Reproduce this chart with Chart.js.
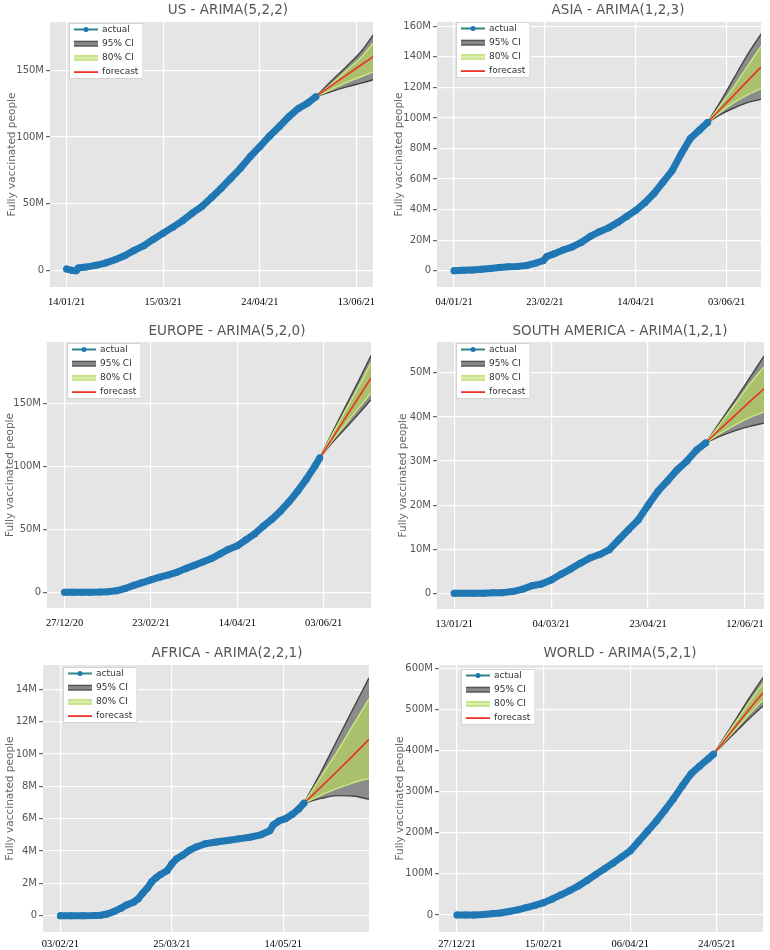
<!DOCTYPE html>
<html>
<head>
<meta charset="utf-8">
<title>Fully vaccinated people - ARIMA forecasts</title>
<script src="https://cdn.jsdelivr.net/npm/chart.js@4.4.0/dist/chart.umd.min.js"></script>
<style>
  body { margin: 0; background: #fff; width: 770px; height: 950px; position: relative; overflow: hidden; }
  canvas { position: absolute; }
</style>
</head>
<body>
<canvas id="c-us" width="385" height="310" style="left:0;top:0"></canvas>
<canvas id="c-asia" width="385" height="310" style="left:385px;top:0"></canvas>
<canvas id="c-europe" width="385" height="320" style="left:0;top:310px"></canvas>
<canvas id="c-sa" width="385" height="320" style="left:385px;top:310px"></canvas>
<canvas id="c-africa" width="385" height="320" style="left:0;top:630px"></canvas>
<canvas id="c-world" width="385" height="320" style="left:385px;top:630px"></canvas>
<script>
// values in millions of people, x = days since first observation
const tickDays = [0, 50, 100, 150]
const legendLabels = ['actual', '95% CI', '80% CI', 'forecast']

// US
const usDates = ['14/01/21', '15/03/21', '24/04/21', '13/06/21']
const usYTicks = [0, 50, 100, 150]
const usDays = [0, 3, 5, 6, 10, 15, 20, 25, 30, 35, 40, 45, 50, 55, 60, 65, 70, 75, 80, 85, 90, 95, 100, 105, 110, 115, 120, 125, 129]
const usActual = [1.2, 0.2, 0, 2, 2.7, 4, 5.7, 8.2, 11.2, 15.2, 18.7, 23.6, 28.1, 32.6, 37.3, 43, 48, 54.7, 61.7, 69.2, 76.6, 85.3, 92.8, 100.7, 107.7, 115.2, 121.4, 125.6, 130.1]
const usFcDays = [129, 137, 145, 153, 159]
const usForecast = [130.1, 138.5, 146.5, 154.5, 160.5]
const usUp95 = [130.1, 142, 153, 165, 177]
const usLo95 = [130.1, 134, 137.5, 140.5, 143]
const usUp80 = [130.1, 139.5, 150, 160.5, 171]
const usLo80 = [130.1, 135.5, 141, 145.5, 149]

// ASIA
const asiaDates = ['04/01/21', '23/02/21', '14/04/21', '03/06/21']
const asiaYTicks = [0, 20, 40, 60, 80, 100, 120, 140, 160]
const asiaDays = [0, 5, 10, 15, 20, 25, 30, 35, 40, 45, 49, 51, 55, 60, 65, 70, 75, 80, 85, 90, 95, 100, 105, 110, 115, 120, 125, 130, 135, 139.5]
const asiaActual = [0, 0.2, 0.5, 0.9, 1.4, 2.0, 2.5, 2.8, 3.4, 5.0, 6.5, 9.3, 11, 13.5, 15.5, 18.5, 22.5, 25.5, 28, 31.5, 35.5, 39.5, 44.5, 50.5, 58, 65.5, 76.5, 86.5, 92, 97]
const asiaFcDays = [139.5, 147, 154, 161, 169]
const asiaForecast = [97, 106.3, 114.9, 123.6, 133.4]
const asiaUp95 = [97, 111.5, 126, 140.5, 155]
const asiaLo95 = [97, 102.5, 106.5, 109.8, 112.2]
const asiaUp80 = [97, 109, 120.5, 133, 147]
const asiaLo80 = [97, 104, 110, 114.8, 119.3]

// EUROPE
const euDates = ['27/12/20', '23/02/21', '14/04/21', '03/06/21']
const euYTicks = [0, 50, 100, 150]
const euDays = [0, 5, 10, 15, 20, 25, 30, 35, 40, 45, 50, 55, 60, 65, 70, 75, 80, 85, 90, 95, 100, 105, 110, 115, 120, 125, 130, 135, 140, 145, 147.7]
const euActual = [0, 0, 0, 0.1, 0.2, 0.5, 1.2, 3, 5.5, 7.7, 9.9, 12, 13.8, 15.9, 18.8, 21.4, 24, 26.8, 30.5, 34.3, 37, 41.7, 46.4, 52.5, 58, 64.5, 72, 80.5, 90, 100.5, 106.8]
const euFcDays = [147.7, 155, 162, 170, 177.4]
const euForecast = [106.8, 122.5, 137.5, 154.5, 170.4]
const euUp95 = [106.8, 127, 146, 167.5, 188.2]
const euLo95 = [106.8, 119, 129.5, 141.5, 153.2]
const euUp80 = [106.8, 125.5, 143, 163, 182.4]
const euLo80 = [106.8, 120.5, 132.5, 146, 158.5]

// SOUTH AMERICA
const saDates = ['13/01/21', '04/03/21', '23/04/21', '12/06/21']
const saYTicks = [0, 10, 20, 30, 40, 50]
const saDays = [0, 5, 10, 15, 20, 25, 30, 35, 40, 45, 50, 55, 60, 65, 70, 75, 80, 85, 90, 95, 100, 105, 110, 115, 120, 125, 129.7]
const saActual = [0, 0, 0, 0, 0.1, 0.15, 0.4, 0.9, 1.7, 2.1, 3.0, 4.3, 5.5, 6.8, 8.0, 8.8, 9.9, 12.2, 14.5, 16.7, 20, 23.1, 25.5, 28, 30, 32.5, 34.1]
const saFcDays = [129.7, 137, 145, 152, 159.8]
const saForecast = [34.1, 37.2, 40.4, 43.3, 46.4]
const saUp95 = [34.1, 38.8, 43.9, 48.6, 53.8]
const saLo95 = [34.1, 35.6, 36.9, 37.8, 38.6]
const saUp80 = [34.1, 38.3, 43, 47.2, 51.4]
const saLo80 = [34.1, 36.2, 38.2, 39.8, 41.1]

// AFRICA
const afDates = ['03/02/21', '25/03/21', '14/05/21']
const afYTicks = [0, 2, 4, 6, 8, 10, 12, 14]
const afDays = [0, 5, 10, 15, 18, 21, 24, 27, 30, 33, 35, 37, 39, 41, 43, 45, 48, 50, 52, 55, 58, 61, 65, 70, 75, 80, 85, 90, 94, 95.5, 98, 101, 104, 107, 109.3]
const afActual = [0, 0, 0, 0.01, 0.03, 0.1, 0.25, 0.45, 0.68, 0.85, 1.05, 1.4, 1.7, 2.1, 2.35, 2.55, 2.8, 3.2, 3.5, 3.75, 4.05, 4.25, 4.45, 4.55, 4.65, 4.75, 4.85, 5.0, 5.25, 5.6, 5.85, 6.0, 6.25, 6.6, 6.95]
const afFcDays = [109.3, 117, 124, 131, 138.5]
const afForecast = [6.95, 7.96, 8.9, 9.85, 10.9]
const afUp95 = [6.95, 8.9, 10.8, 12.7, 14.7]
const afLo95 = [6.95, 7.25, 7.42, 7.4, 7.2]
const afUp80 = [6.95, 8.6, 10.1, 11.7, 13.4]
const afLo80 = [6.95, 7.45, 7.85, 8.2, 8.5]

// WORLD
const wDates = ['27/12/21', '15/02/21', '06/04/21', '24/05/21']
const wYTicks = [0, 100, 200, 300, 400, 500, 600]
const wDays = [0, 5, 10, 15, 20, 25, 30, 35, 40, 45, 50, 55, 60, 65, 70, 75, 80, 85, 90, 95, 100, 105, 110, 115, 120, 125, 130, 135, 140, 145, 148]
const wActual = [0, 0, 0.2, 1.2, 2.8, 5, 8.5, 12.5, 18, 23.5, 30, 39, 49, 59.5, 70.5, 84, 98, 112, 126, 141, 156, 180, 204, 228, 255, 283, 314, 343, 362, 380, 391]
const wFcDays = [148, 155, 162, 169, 176.6]
const wForecast = [391, 428, 465, 502, 540.7]
const wUp95 = [391, 437, 483, 530, 577.3]
const wLo95 = [391, 421, 450, 479, 508.2]
const wUp80 = [391, 434, 476, 519, 563.4]
const wLo80 = [391, 424, 457, 490, 523]

const FONT = '"DejaVu Sans", Verdana, sans-serif'
const SERIF = '"Liberation Serif", "Times New Roman", serif'

const panels = [
    { id: 'c-us', h: 310, title: 'US - ARIMA(5,2,2)', titleX: 228, titleY: 14, area: { l: 50, r: 373, t: 22, b: 287 }, yTitleX: 12, xPad: 9,
      xRange: [-8.6, 158.6], yRange: [-12.2, 186.1], yTicks: usYTicks, dates: usDates, legend: { dx: 19, dy: 1 },
      days: usDays, actual: usActual, fcDays: usFcDays, forecast: usForecast, up95: usUp95, lo95: usLo95, up80: usUp80, lo80: usLo80 },
    { id: 'c-asia', h: 310, title: 'ASIA - ARIMA(1,2,3)', titleX: 233, titleY: 14, area: { l: 52, r: 376, t: 22, b: 287 }, yTitleX: 14, xPad: 9,
      xRange: [-9.4, 168.9], yRange: [-10.7, 162.8], yTicks: asiaYTicks, dates: asiaDates, legend: { dx: 19, dy: 0 },
      days: asiaDays, actual: asiaActual, fcDays: asiaFcDays, forecast: asiaForecast, up95: asiaUp95, lo95: asiaLo95, up80: asiaUp80, lo80: asiaLo80 },
    { id: 'c-europe', h: 320, title: 'EUROPE - ARIMA(5,2,0)', titleX: 227, titleY: 25, area: { l: 47, r: 371, t: 32, b: 298 }, yTitleX: 10, xPad: 9,
      xRange: [-10.2, 177.4], yRange: [-12.5, 199], yTicks: euYTicks, dates: euDates, legend: { dx: 20, dy: 1 },
      days: euDays, actual: euActual, fcDays: euFcDays, forecast: euForecast, up95: euUp95, lo95: euLo95, up80: euUp80, lo80: euLo80 },
    { id: 'c-sa', h: 320, title: 'SOUTH AMERICA - ARIMA(1,2,1)', titleX: 235, titleY: 25, area: { l: 52, r: 379, t: 32, b: 299 }, yTitleX: 18, xPad: 9,
      xRange: [-8.9, 159.8], yRange: [-3.56, 57.0], yTicks: saYTicks, dates: saDates, legend: { dx: 19, dy: 1 },
      days: saDays, actual: saActual, fcDays: saFcDays, forecast: saForecast, up95: saUp95, lo95: saLo95, up80: saUp80, lo80: saLo80 },
    { id: 'c-africa', h: 320, title: 'AFRICA - ARIMA(2,2,1)', titleX: 227, titleY: 27, area: { l: 43, r: 369, t: 35, b: 302 }, yTitleX: 10, xPad: 6,
      xRange: [-7.8, 138.5], yRange: [-1.01, 15.5], yTicks: afYTicks, dates: afDates, legend: { dx: 20, dy: 2 },
      days: afDays, actual: afActual, fcDays: afFcDays, forecast: afForecast, up95: afUp95, lo95: afLo95, up80: afUp80, lo80: afLo80 },
    { id: 'c-world', h: 320, title: 'WORLD - ARIMA(5,2,1)', titleX: 235, titleY: 27, area: { l: 54, r: 378, t: 35, b: 302 }, yTitleX: 15, xPad: 6,
      xRange: [-10.4, 176.6], yRange: [-41.4, 608], yTicks: wYTicks, dates: wDates, legend: { dx: 22, dy: 4 },
      days: wDays, actual: wActual, fcDays: wFcDays, forecast: wForecast, up95: wUp95, lo95: wLo95, up80: wUp80, lo80: wLo80 }
]

const plotBackground = {
    id: 'plotBackground',
    beforeDraw(chart) {
        const { ctx, chartArea: a } = chart
        ctx.save()
        ctx.fillStyle = '#e5e5e5'
        ctx.fillRect(a.left, a.top, a.width, a.height)
        ctx.restore()
    }
}

const panelTitle = {
    id: 'panelTitle',
    afterDraw(chart, args, opts) {
        const ctx = chart.ctx
        ctx.save()
        ctx.font = '13.5px ' + FONT
        ctx.fillStyle = '#555'
        ctx.textAlign = 'center'
        ctx.textBaseline = 'alphabetic'
        ctx.fillText(opts.text, opts.x, opts.y)
        ctx.restore()
    }
}

// legend box drawn inside the plot, top left
const insideLegend = {
    id: 'insideLegend',
    afterDraw(chart, args, opts) {
        const ctx = chart.ctx
        const a = chart.chartArea
        const x0 = a.left + opts.dx
        const y0 = a.top + opts.dy
        ctx.save()
        ctx.font = '9px ' + FONT
        const tw = Math.max(...legendLabels.map(t => ctx.measureText(t).width))
        const w = 33 + tw + 5
        const h = 56
        ctx.fillStyle = '#fff'
        ctx.fillRect(x0, y0, w, h)
        ctx.strokeStyle = '#d4d4d4'
        ctx.lineWidth = 1
        ctx.strokeRect(x0 + 0.5, y0 + 0.5, w - 1, h - 1)
        legendLabels.forEach((label, i) => {
            const cy = y0 + 6.5 + i * 14.2
            const lx = x0 + 5
            if (i === 0) {
                ctx.strokeStyle = '#2e8585'
                ctx.lineWidth = 2
                ctx.beginPath(); ctx.moveTo(lx, cy); ctx.lineTo(lx + 24, cy); ctx.stroke()
                ctx.fillStyle = '#1f77b4'
                ctx.beginPath(); ctx.arc(lx + 12, cy, 2.5, 0, Math.PI * 2); ctx.fill()
            } else if (i === 1) {
                ctx.fillStyle = '#555'
                ctx.fillRect(lx, cy - 3, 24, 6)
                ctx.fillStyle = '#8a8a8a'
                ctx.fillRect(lx, cy - 1.5, 24, 3)
            } else if (i === 2) {
                ctx.fillStyle = '#c8e48a'
                ctx.fillRect(lx, cy - 3, 24, 6)
                ctx.fillStyle = '#dcefb0'
                ctx.fillRect(lx, cy - 1, 24, 2)
            } else {
                ctx.strokeStyle = '#e8322a'
                ctx.lineWidth = 1.8
                ctx.beginPath(); ctx.moveTo(lx, cy); ctx.lineTo(lx + 24, cy); ctx.stroke()
            }
            ctx.fillStyle = '#333'
            ctx.textAlign = 'left'
            ctx.textBaseline = 'middle'
            ctx.fillText(label, x0 + 33, cy)
        })
        ctx.restore()
    }
}

function xy(days, vals) {
    return days.map((d, i) => ({ x: d, y: vals[i] }))
}

function band(data, color, fill, bg) {
    return {
        data: data, borderColor: color, borderWidth: 1.4, pointRadius: 0,
        cubicInterpolationMode: 'monotone', fill: fill, backgroundColor: bg
    }
}

panels.forEach(p => {
    const datasets = [
        {
            label: 'actual', data: xy(p.days, p.actual),
            borderColor: '#1f77b4', backgroundColor: '#1f77b4', borderWidth: 7,
            borderCapStyle: 'round', borderJoinStyle: 'round',
            pointRadius: 3.5, pointBorderWidth: 0, fill: false
        },
        {
            label: 'forecast', data: xy(p.fcDays, p.forecast),
            borderColor: '#e8322a', borderWidth: 1.6, pointRadius: 0, fill: false
        },
        band(xy(p.fcDays, p.up80), '#c9e882', '+1', 'rgb(170,192,108)'),
        band(xy(p.fcDays, p.lo80), '#c9e882', false, 'transparent'),
        band(xy(p.fcDays, p.up95), '#444', '+1', 'rgb(140,140,140)'),
        band(xy(p.fcDays, p.lo95), '#444', false, 'transparent')
    ]

    new Chart(document.getElementById(p.id), {
        type: 'line',
        data: { datasets: datasets },
        options: {
            responsive: false,
            animation: false,
            devicePixelRatio: 1,
            layout: { padding: { top: p.area.t, right: 385 - p.area.r, left: 0, bottom: 0 } },
            plugins: {
                legend: { display: false },
                tooltip: { enabled: false },
                filler: { drawTime: 'beforeDatasetsDraw' },
                panelTitle: { text: p.title, x: p.titleX, y: p.titleY },
                insideLegend: p.legend
            },
            scales: {
                x: {
                    type: 'linear', min: p.xRange[0], max: p.xRange[1],
                    afterBuildTicks: s => { s.ticks = tickDays.slice(0, p.dates.length).map(v => ({ value: v })) },
                    afterFit: s => { s.height = p.h - p.area.b; s.paddingLeft = 0; s.paddingRight = 0 },
                    grid: { color: '#fff', lineWidth: 1.2, drawTicks: false },
                    border: { display: false },
                    ticks: {
                        font: { family: SERIF, size: 10.5 }, color: '#000', padding: p.xPad,
                        maxRotation: 0, autoSkip: false,
                        callback: v => p.dates[tickDays.indexOf(v)]
                    }
                },
                y: {
                    type: 'linear', min: p.yRange[0], max: p.yRange[1],
                    afterBuildTicks: s => { s.ticks = p.yTicks.map(v => ({ value: v })) },
                    afterFit: s => { s.width = p.area.l; s.paddingTop = 0; s.paddingBottom = 0 },
                    grid: { color: '#fff', lineWidth: 1.2, tickColor: '#666', tickLength: 4 },
                    border: { display: false },
                    ticks: {
                        font: { family: FONT, size: 10 }, color: '#555', padding: 2,
                        callback: v => v === 0 ? '0' : v + 'M'
                    },
                    title: {
                        display: true, text: 'Fully vaccinated people', color: '#666',
                        font: { family: FONT, size: 10.5 },
                        padding: { top: p.yTitleX - 6.3, bottom: 0 }
                    }
                }
            }
        },
        plugins: [plotBackground, panelTitle, insideLegend]
    })
})
</script>
</body>
</html>
